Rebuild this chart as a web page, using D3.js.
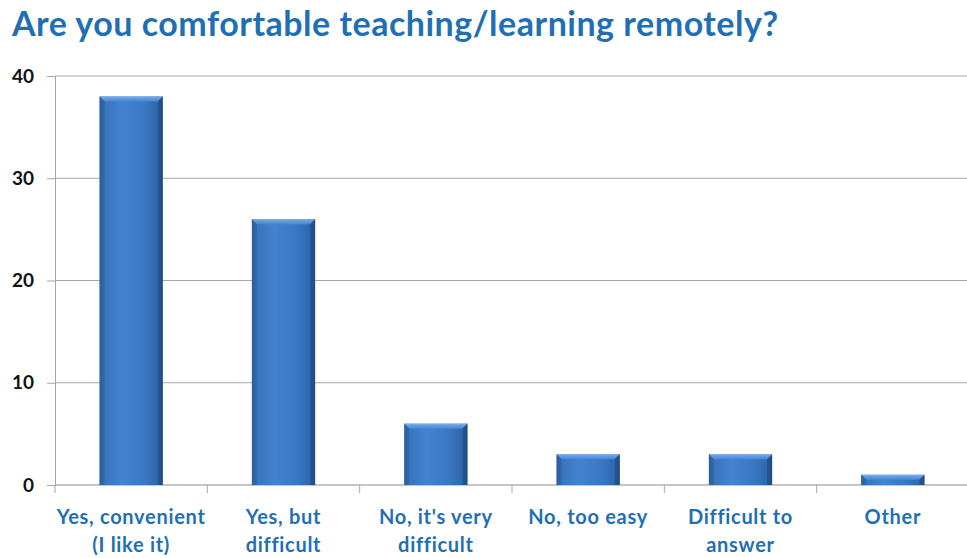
<!DOCTYPE html>
<html><head><meta charset="utf-8">
<script src="https://cdn.jsdelivr.net/npm/d3@7"></script>
<style>body{margin:0;background:#fff}svg{display:block}</style>
</head><body>
<svg id="c" width="967" height="558"></svg>
<script>
const titleText = "Are you comfortable teaching/learning remotely?";
const categories = ["Yes, convenient|(I like it)", "Yes, but|difficult", "No, it's very|difficult", "No, too easy", "Difficult to|answer", "Other"];
const values = [38, 26, 6, 3, 3, 1];
const yTicks = [0, 10, 20, 30, 40];

(function(){
const svg = d3.select("#c");
const mLeft = 55, mRight = 969, mTop = 76, mBottom = 485;

const defs = svg.append("defs");
const g1 = defs.append("linearGradient").attr("id","barH").attr("x1","0").attr("x2","1").attr("y1","0").attr("y2","0");
[[0,"#2a5e9e"],[0.08,"#3a74bd"],[0.35,"#4282d0"],[0.7,"#3b78c4"],[0.93,"#2f66ab"],[1,"#22508a"]].forEach(([o,c])=>g1.append("stop").attr("offset",o).attr("stop-color",c));
const g2 = defs.append("linearGradient").attr("id","bevel").attr("x1","0").attr("x2","0").attr("y1","0").attr("y2","1");
[[0,"#7fb0ea"],[0.5,"#5c97e0"],[1,"#4a86d2"]].forEach(([o,c])=>g2.append("stop").attr("offset",o).attr("stop-color",c));

svg.append("text").attr("x", 12).attr("y", 36)
  .attr("font-family","Lato, 'Open Sans', sans-serif").attr("font-weight","bold")
  .attr("font-size", 34).attr("letter-spacing", 0.5).attr("fill","#1f6fb5").text(titleText);

const x = d3.scaleBand().domain(categories).range([mLeft, mRight]).paddingInner(0.585).paddingOuter(0.2925);
const y = d3.scaleLinear().domain([0, 40]).range([mBottom, mTop]);

svg.append("g").selectAll("line").data(yTicks.filter(d=>d>0)).join("line")
  .attr("x1", mLeft).attr("x2", mRight).attr("y1", d=>y(d)).attr("y2", d=>y(d))
  .attr("stroke","#a6a6a6").attr("stroke-width",1);

const ya = svg.append("g").attr("transform",`translate(${mLeft},0)`)
  .call(d3.axisLeft(y).tickValues(yTicks).tickSize(8).tickPadding(13));
ya.select(".domain").attr("stroke","#a6a6a6");
ya.selectAll(".tick line").attr("stroke","#a6a6a6");
ya.selectAll(".tick text").attr("font-family","Lato, 'Open Sans', sans-serif").attr("font-weight","bold").attr("font-size",19).attr("fill","#111");

const xb = d3.scaleLinear().domain([0, categories.length]).range([mLeft, mRight]);
svg.append("line").attr("x1",mLeft).attr("x2",mRight).attr("y1",mBottom).attr("y2",mBottom).attr("stroke","#8c8c8c");
svg.append("g").selectAll("line").data(d3.range(0, categories.length)).join("line")
  .attr("x1", d=>xb(d)).attr("x2", d=>xb(d)).attr("y1", mBottom).attr("y2", mBottom+8).attr("stroke","#a6a6a6");

const bars = svg.append("g").selectAll("g").data(values).join("g");
bars.append("rect")
  .attr("x",(d,i)=>x(categories[i])).attr("width",x.bandwidth())
  .attr("y",d=>y(d)).attr("height",d=>mBottom-y(d))
  .attr("fill","url(#barH)");
const bev = 5;
bars.append("path")
  .attr("d",(d,i)=>{const x0=x(categories[i]), x1=x0+x.bandwidth(), yt=y(d); const b=Math.min(bev,(mBottom-yt)/2);
    return `M${x0},${yt}L${x1},${yt}L${x1-b},${yt+b}L${x0+b},${yt+b}Z`;})
  .attr("fill","url(#bevel)");
bars.append("path")
  .attr("d",(d,i)=>{const x0=x(categories[i]), yt=y(d); const b=Math.min(bev,(mBottom-yt)/2);
    return `M${x0},${yt}L${x0+b},${yt+b}L${x0+b},${mBottom}L${x0},${mBottom}Z`;})
  .attr("fill","#2d609f").attr("opacity",0.6);
bars.append("path")
  .attr("d",(d,i)=>{const x1=x(categories[i])+x.bandwidth(), yt=y(d); const b=Math.min(bev,(mBottom-yt)/2);
    return `M${x1},${yt}L${x1-b},${yt+b}L${x1-b},${mBottom}L${x1},${mBottom}Z`;})
  .attr("fill","#1f4a80").attr("opacity",0.6);

const lab = svg.append("g").selectAll("text").data(categories).join("text")
  .attr("x", d=>x(d)+x.bandwidth()/2).attr("y", 524)
  .attr("text-anchor","middle")
  .attr("font-family","Lato, 'Open Sans', sans-serif").attr("font-weight","bold").attr("font-size",20).attr("letter-spacing",0.7).attr("fill","#1f6fb5");
lab.selectAll("tspan").data(d=>d.split("|")).join("tspan")
  .attr("x", function(){return this.parentNode.getAttribute("x");})
  .attr("dy",(d,i)=>i===0?0:28).text(d=>d);
})();
</script>
</body></html>
